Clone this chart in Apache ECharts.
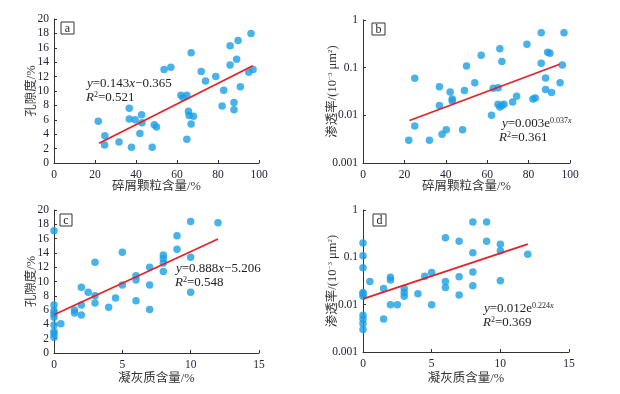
<!DOCTYPE html>
<html><head><meta charset="utf-8">
<script src="https://cdn.jsdelivr.net/npm/echarts@6/dist/echarts.min.js"></script>
<style>html,body{margin:0;padding:0;background:#fff}#c{width:620px;height:394px}</style>
</head><body><div id="c"></div>
<script>
// Panel a: 碎屑颗粒含量 vs 孔隙度
const aX = [21.6,24.8,24.7,31.7,36.7,36.7,37.8,39.6,42.7,42.9,41.9,47.9,48.9,50,53.7,57,61.9,63,64.8,64.8,65.6,65.9,66.9,66.9,68,71.8,73.9,78.9,82,82.8,85.9,85.9,87.8,87.8,89.1,89.8,90.9,95,96.1,97.1];
const aY = [5.8,3.8,2.5,2.9,7.6,6.1,2.2,6.0,6.7,5.6,4.1,2.2,5.3,5.0,13.0,13.3,9.4,9.1,9.4,3.3,7.2,6.6,15.3,5.4,6.5,12.7,11.4,12.0,7.9,10.1,16.3,13.6,8.4,7.4,14.4,17.0,10.6,12.6,18.0,13.0];
// Panel b: 碎屑颗粒含量 vs 渗透率
const bX = [22.1,25,25,32.1,36.9,36.9,38.2,40.2,42.1,43.1,43.1,48.1,49,50,54,57.1,62.1,62.9,65.3,65.2,66.1,66.1,67.1,67.1,68.1,72.3,74.2,79.2,82.1,83.2,86.1,86.1,88.2,88.2,89.2,90.3,91.1,95.2,96.3,97.1];
const bY = [0.003,0.060,0.006,0.003,0.040,0.016,0.004,0.005,0.031,0.022,0.020,0.005,0.033,0.109,0.048,0.182,0.010,0.037,0.038,0.017,0.25,0.015,0.134,0.016,0.017,0.019,0.025,0.31,0.022,0.023,0.54,0.124,0.061,0.035,0.21,0.20,0.030,0.048,0.114,0.54];
// Panel c: 凝灰质含量 vs 孔隙度
const cX = [0,0,0,0,0,0,0,0,0,0.5,1.5,1.5,2,2,2,2.5,3,3,3,4,4.5,5,5,6,6,6,7,7,7,8,8,8,8,9,9,10,10,10,12];
const cY = [17.1,6.7,5.9,5.5,5.0,3.9,3.0,2.7,2.2,4.1,6.0,5.6,9.2,6.7,5.3,8.5,12.7,8.0,7.0,6.4,7.7,14.1,9.5,10.8,10.2,7.3,12.0,9.5,6.1,13.7,13.2,12.6,11.4,16.4,14.5,18.4,13.4,8.5,18.2];
// Panel d: 凝灰质含量 vs 渗透率
const dX = [0,0,0,0,0,0,0,0,0,0,0.5,1.5,1.5,2,2,2,2.5,3,3,3,4,4.5,5,5,6,6,6,7,7,7,8,8,8,8,9,9,10,10,10,12];
const dY = [0.20,0.108,0.060,0.018,0.017,0.015,0.006,0.005,0.004,0.003,0.031,0.022,0.005,0.038,0.033,0.010,0.010,0.022,0.018,0.015,0.017,0.040,0.048,0.010,0.26,0.031,0.023,0.22,0.039,0.016,0.56,0.125,0.049,0.025,0.56,0.22,0.19,0.138,0.032,0.116];
// Fit lines (endpoints as drawn)
const fitAX = [22, 97], fitAY = [2.75, 13.5];
const fitBX = [22.5, 95], fitBY = [0.0078, 0.118];
const fitCX = [0, 12], fitCY = [5.35, 15.95];
const fitDX = [0, 12], fitDY = [0.0132, 0.19];
// Tick settings
const xTicksAB = {min: 0, max: 100, interval: 20};
const xTicksCD = {min: 0, max: 15, interval: 5};
const yTicksPor = {min: 0, max: 20, interval: 2};
const yLogRange = {min: 0.001, max: 1};
const panelLetters = ['a', 'b', 'c', 'd'];
const xNames = ['碎屑颗粒含量/%', '碎屑颗粒含量/%', '凝灰质含量/%', '凝灰质含量/%'];

const FONT = '"Liberation Serif", "Noto Sans CJK SC", serif';
const TICKC = '#22223a';
const AXC = '#333';
const zip = (xs, ys) => xs.map((x, i) => [x, ys[i]]);

const grids = [
  {left: 54, top: 19, width: 205, height: 144},
  {left: 363, top: 20, width: 207, height: 143},
  {left: 54, top: 210, width: 205, height: 143},
  {left: 363, top: 210, width: 206, height: 142}
];

function xAxis(i, t, gap) {
  return Object.assign({
    type: 'value', gridIndex: i, name: xNames[i], nameLocation: 'middle', nameGap: gap, nameMoveOverlap: false,
    nameTextStyle: {fontFamily: FONT, fontSize: 12.5, color: '#333'},
    axisLine: {show: true, lineStyle: {color: AXC, width: 1}},
    axisTick: {show: true, inside: true, length: 3, lineStyle: {color: AXC}},
    axisLabel: {fontFamily: FONT, fontSize: 11.5, color: TICKC, margin: 6},
    splitLine: {show: false}
  }, t);
}
const richName = {
  n: {fontFamily: FONT, fontSize: 12.5, color: '#333'},
  s: {fontFamily: FONT, fontSize: 7, color: '#333', verticalAlign: 'top', lineHeight: 8}
};
function yPor(i) {
  return Object.assign({
    type: 'value', gridIndex: i, name: '孔隙度/%', nameLocation: 'middle', nameGap: 16, nameRotate: 90, nameMoveOverlap: false,
    nameTextStyle: {fontFamily: FONT, fontSize: 12.5, color: '#333'},
    axisLine: {show: true, lineStyle: {color: AXC, width: 1}},
    axisTick: {show: true, inside: true, length: 3, lineStyle: {color: AXC}},
    axisLabel: {fontFamily: FONT, fontSize: 11.5, color: TICKC, margin: 5},
    splitLine: {show: false}
  }, yTicksPor);
}
function yLog(i) {
  return Object.assign({
    type: 'log', logBase: 10, gridIndex: i, name: '{n|渗透率/(10}{s|−3}{n| μm}{s|2}{n|)}',
    nameLocation: 'middle', nameGap: 24, nameRotate: 90, nameMoveOverlap: false,
    nameTextStyle: {fontFamily: FONT, fontSize: 12.5, color: '#333', rich: richName},
    axisLine: {show: true, lineStyle: {color: AXC, width: 1}},
    axisTick: {show: true, inside: true, length: 3, lineStyle: {color: AXC}},
    minorTick: {show: false},
    axisLabel: {fontFamily: FONT, fontSize: 11.5, color: TICKC, margin: 5,
      formatter: v => String(+(+v).toPrecision(1))},
    splitLine: {show: false}
  }, yLogRange);
}

const scatterStyle = {color: '#1a9fe6', borderWidth: 0};
function sc(i, data) {
  return {type: 'scatter', xAxisIndex: i, yAxisIndex: i, data: data, symbolSize: 7.5, itemStyle: scatterStyle, z: 2};
}
function fit(i, data) {
  return {type: 'line', xAxisIndex: i, yAxisIndex: i, data: data, symbol: 'none', lineStyle: {color: '#e3222b', width: 1.8}, z: 3, silent: true};
}

const rich = {
  i: {fontFamily: FONT, fontSize: 13, fontStyle: 'italic', color: '#222', lineHeight: 14},
  n: {fontFamily: FONT, fontSize: 13, color: '#222', lineHeight: 14},
  s: {fontFamily: FONT, fontSize: 8, color: '#222', verticalAlign: 'top', lineHeight: 14},
  si: {fontFamily: FONT, fontSize: 8, fontStyle: 'italic', color: '#222', verticalAlign: 'top', lineHeight: 14}
};
function txt(x, y, s) {
  return {type: 'text', x: x, y: y, style: {text: s, rich: rich, font: '13px ' + FONT, fill: '#222', verticalAlign: 'middle'}};
}
function box(x, y, w, h, letter) {
  return [
    {type: 'rect', shape: {x: x, y: y, width: w, height: h}, style: {fill: '#fff', stroke: '#333', lineWidth: 1}},
    {type: 'text', x: x + w / 2, y: y + h / 2 + 0.5, style: {text: letter, font: '12px ' + FONT, fill: '#222', align: 'center', verticalAlign: 'middle'}}
  ];
}

const option = {
  animation: false,
  grid: grids,
  xAxis: [xAxis(0, xTicksAB, 17), xAxis(1, xTicksAB, 17), xAxis(2, xTicksCD, 19), xAxis(3, xTicksCD, 20)],
  yAxis: [yPor(0), yLog(1), yPor(2), yLog(3)],
  series: [
    sc(0, zip(aX, aY)), fit(0, zip(fitAX, fitAY)),
    sc(1, zip(bX, bY)), fit(1, zip(fitBX, fitBY)),
    sc(2, zip(cX, cY)), fit(2, zip(fitCX, fitCY)),
    sc(3, zip(dX, dY)), fit(3, zip(fitDX, fitDY))
  ],
  graphic: [].concat(
    box(61, 22, 13, 12, panelLetters[0]),
    box(372, 23, 13, 12, panelLetters[1]),
    box(60, 214, 12, 12, panelLetters[2]),
    box(373, 214, 13, 12, panelLetters[3]),
    [
      txt(87, 84, '{i|y}{n|=0.143}{i|x}{n|−0.365}'),
      txt(86, 98, '{i|R}{s|2}{n|=0.521}'),
      txt(502, 124, '{i|y}{n|=0.003e}{s|0.037}{si|x}'),
      txt(499, 138, '{i|R}{s|2}{n|=0.361}'),
      txt(176, 269, '{i|y}{n|=0.888}{i|x}{n|−5.206}'),
      txt(175, 283, '{i|R}{s|2}{n|=0.548}'),
      txt(484, 309, '{i|y}{n|=0.012e}{s|0.224}{si|x}'),
      txt(483, 323, '{i|R}{s|2}{n|=0.369}')
    ]
  )
};
const chart = echarts.init(document.getElementById('c'), null, {renderer: 'canvas'});
chart.setOption(option);
</script>
</body></html>
